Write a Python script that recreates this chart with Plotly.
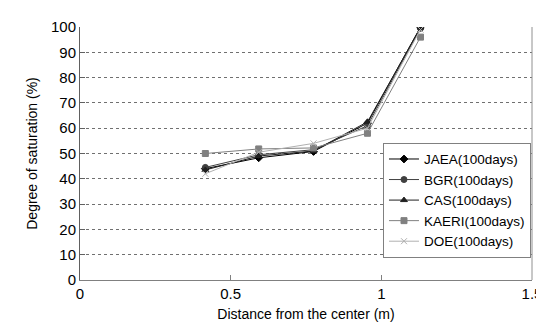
import plotly.graph_objects as go

x_vals = [0.416, 0.593, 0.775, 0.954, 1.13]
jaea = [44.0, 48.3, 50.8, 62.0, 100.0]
bgr = [44.5, 49.5, 51.5, 61.0, 99.5]
cas = [43.5, 49.0, 51.0, 62.5, 99.8]
kaeri = [50.0, 51.8, 52.2, 58.0, 96.0]
doe = [42.0, 50.5, 54.0, 60.0, 99.0]

series = [
    ("JAEA(100days)", jaea, "#000000", "diamond", 6),
    ("BGR(100days)", bgr, "#404040", "circle", 6),
    ("CAS(100days)", cas, "#202020", "triangle-up", 6),
    ("KAERI(100days)", kaeri, "#808080", "square", 6),
    ("DOE(100days)", doe, "#b0b0b0", "x-thin-open", 6),
]

fig = go.Figure()
for name, ys, col, sym, sz in series:
    fig.add_trace(go.Scatter(
        x=x_vals, y=ys, mode="lines+markers", name=name,
        line=dict(color=col, width=1),
        marker=dict(symbol=sym, size=sz, color=col, line=dict(color=col, width=1)),
    ))

font = "Liberation Sans, Arial, sans-serif"
fig.update_layout(
    width=544, height=326,
    margin=dict(l=72, r=17, t=10, b=54),
    paper_bgcolor="white", plot_bgcolor="white",
    font=dict(family=font, size=15, color="black"),
    showlegend=True,
    legend=dict(
        x=(377 - 72) / (527 - 72), y=(272 - 139) / 262 + 0.035, xanchor="left", yanchor="top",
        bgcolor="white", bordercolor="#808080", borderwidth=1,
        font=dict(size=13.5, color="black"), tracegroupgap=0, itemwidth=30,
    ),
    xaxis=dict(
        range=[0, 1.5], tickvals=[0, 0.5, 1, 1.5], ticktext=["0", "0.5", "1", "1.5"],
        showgrid=False, zeroline=False, showline=True, linecolor="#808080", linewidth=1,
        mirror=False, ticks="inside", ticklen=5, tickcolor="#808080",
        title=dict(text="Distance from the center (m)", font=dict(size=14), standoff=8),
    ),
    yaxis=dict(
        range=[0, 100], dtick=10,
        showgrid=True, gridcolor="#707070", griddash="dot", gridwidth=1,
        zeroline=False, showline=True, linecolor="#606060", linewidth=1,
        ticks="inside", ticklen=5, tickcolor="#606060",
        title=dict(text="Degree of saturation (%)", font=dict(size=14), standoff=10),
    ),
)
# right border of plot area
fig.add_shape(type="line", xref="paper", yref="paper", x0=1, x1=1, y0=0, y1=1,
              line=dict(color="#909090", width=1))
fig.write_html("out.html")
